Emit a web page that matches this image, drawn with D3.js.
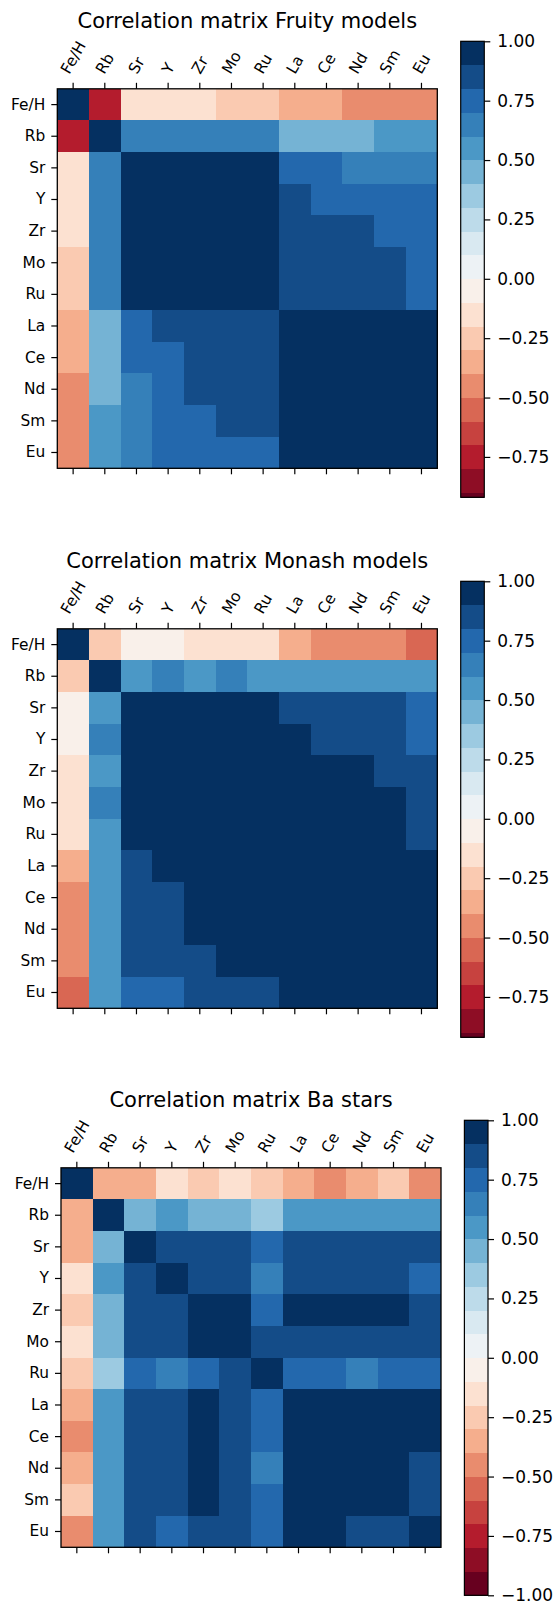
<!DOCTYPE html>
<html><head><meta charset="utf-8">
<script src="https://cdn.jsdelivr.net/npm/d3@7"></script>
<style>
body{margin:0;background:#fff}
svg{display:block}
text{font-family:"DejaVu Sans",sans-serif;fill:#000}
</style>
</head><body>
<svg id="chart" width="556" height="1602"></svg>
<script>
// ---------- data ----------
const elements = ["Fe/H","Rb","Sr","Y","Zr","Mo","Ru","La","Ce","Nd","Sm","Eu"];
const titles = ["Correlation matrix Fruity models","Correlation matrix Monash models","Correlation matrix Ba stars"];
const colorbarTicks = [1.00,0.75,0.50,0.25,0.00,-0.25,-0.50,-0.75,-1.00];
const colorbarMin = [-0.92,-0.92,-1.00];

const fruity = [
 [ 1.00,-0.75,-0.15,-0.15,-0.15,-0.25,-0.25,-0.35,-0.35,-0.45,-0.45,-0.45],
 [-0.75, 1.00, 0.65, 0.65, 0.65, 0.65, 0.65, 0.45, 0.45, 0.45, 0.55, 0.55],
 [-0.15, 0.65, 1.00, 0.97, 0.96, 0.95, 0.95, 0.75, 0.75, 0.65, 0.65, 0.65],
 [-0.15, 0.65, 0.97, 1.00, 0.98, 0.97, 0.96, 0.85, 0.75, 0.75, 0.75, 0.75],
 [-0.15, 0.65, 0.96, 0.98, 1.00, 0.98, 0.97, 0.85, 0.85, 0.85, 0.75, 0.75],
 [-0.25, 0.65, 0.95, 0.97, 0.98, 1.00, 0.98, 0.85, 0.85, 0.85, 0.85, 0.75],
 [-0.25, 0.65, 0.95, 0.96, 0.97, 0.98, 1.00, 0.85, 0.85, 0.85, 0.85, 0.75],
 [-0.35, 0.45, 0.75, 0.85, 0.85, 0.85, 0.85, 1.00, 0.98, 0.97, 0.96, 0.95],
 [-0.35, 0.45, 0.75, 0.75, 0.85, 0.85, 0.85, 0.98, 1.00, 0.98, 0.97, 0.96],
 [-0.45, 0.45, 0.65, 0.75, 0.85, 0.85, 0.85, 0.97, 0.98, 1.00, 0.98, 0.97],
 [-0.45, 0.55, 0.65, 0.75, 0.75, 0.85, 0.85, 0.96, 0.97, 0.98, 1.00, 0.98],
 [-0.45, 0.55, 0.65, 0.75, 0.75, 0.75, 0.75, 0.95, 0.96, 0.97, 0.98, 1.00]
];

const monash = [
 [ 1.00,-0.25,-0.05,-0.05,-0.15,-0.15,-0.15,-0.35,-0.45,-0.45,-0.45,-0.55],
 [-0.25, 1.00, 0.55, 0.65, 0.55, 0.65, 0.55, 0.55, 0.55, 0.55, 0.55, 0.55],
 [-0.05, 0.55, 1.00, 0.98, 0.97, 0.96, 0.96, 0.85, 0.85, 0.85, 0.85, 0.75],
 [-0.05, 0.65, 0.98, 1.00, 0.98, 0.97, 0.97, 0.95, 0.85, 0.85, 0.85, 0.75],
 [-0.15, 0.55, 0.97, 0.98, 1.00, 0.99, 0.98, 0.95, 0.95, 0.95, 0.85, 0.85],
 [-0.15, 0.65, 0.96, 0.97, 0.99, 1.00, 0.99, 0.96, 0.95, 0.95, 0.95, 0.85],
 [-0.15, 0.55, 0.96, 0.97, 0.98, 0.99, 1.00, 0.96, 0.96, 0.95, 0.95, 0.85],
 [-0.35, 0.55, 0.85, 0.95, 0.95, 0.96, 0.96, 1.00, 0.99, 0.98, 0.98, 0.95],
 [-0.45, 0.55, 0.85, 0.85, 0.95, 0.95, 0.96, 0.99, 1.00, 0.99, 0.98, 0.96],
 [-0.45, 0.55, 0.85, 0.85, 0.95, 0.95, 0.95, 0.98, 0.99, 1.00, 0.99, 0.97],
 [-0.45, 0.55, 0.85, 0.85, 0.85, 0.95, 0.95, 0.98, 0.98, 0.99, 1.00, 0.97],
 [-0.55, 0.55, 0.75, 0.75, 0.85, 0.85, 0.85, 0.95, 0.96, 0.97, 0.97, 1.00]
];

const baStars = [
 [ 1.00,-0.35,-0.35,-0.15,-0.25,-0.15,-0.25,-0.35,-0.45,-0.35,-0.25,-0.45],
 [-0.35, 1.00, 0.45, 0.55, 0.45, 0.45, 0.35, 0.55, 0.55, 0.55, 0.55, 0.55],
 [-0.35, 0.45, 1.00, 0.85, 0.85, 0.85, 0.75, 0.85, 0.85, 0.85, 0.85, 0.85],
 [-0.15, 0.55, 0.85, 1.00, 0.85, 0.85, 0.65, 0.85, 0.85, 0.85, 0.85, 0.75],
 [-0.25, 0.45, 0.85, 0.85, 1.00, 0.95, 0.75, 0.95, 0.95, 0.95, 0.95, 0.85],
 [-0.15, 0.45, 0.85, 0.85, 0.95, 1.00, 0.85, 0.85, 0.85, 0.85, 0.85, 0.85],
 [-0.25, 0.35, 0.75, 0.65, 0.75, 0.85, 1.00, 0.75, 0.75, 0.65, 0.75, 0.75],
 [-0.35, 0.55, 0.85, 0.85, 0.95, 0.85, 0.75, 1.00, 0.96, 0.95, 0.95, 0.95],
 [-0.45, 0.55, 0.85, 0.85, 0.95, 0.85, 0.75, 0.96, 1.00, 0.96, 0.95, 0.95],
 [-0.35, 0.55, 0.85, 0.85, 0.95, 0.85, 0.65, 0.95, 0.96, 1.00, 0.96, 0.85],
 [-0.25, 0.55, 0.85, 0.85, 0.95, 0.85, 0.75, 0.95, 0.95, 0.96, 1.00, 0.85],
 [-0.45, 0.55, 0.85, 0.75, 0.85, 0.85, 0.75, 0.95, 0.95, 0.85, 0.85, 1.00]
];

const matrices = [fruity, monash, baStars];

// ---------- colour map (matplotlib RdBu, 20 discrete levels) ----------
const rdbuAnchors = ["#67001f","#b2182b","#d6604d","#f4a582","#fddbc7","#f7f7f7","#d1e5f0","#92c5de","#4393c3","#2166ac","#053061"];
const rdbu = d3.scaleLinear().domain(d3.range(11).map(i => i/10)).range(rdbuAnchors).interpolate(d3.interpolateRgb);
const nLevels = 20;
const levelColors = d3.range(nLevels).map(i => rdbu(i/(nLevels-1)));
const color = d3.scaleQuantize().domain([-1,1]).range(levelColors);

// ---------- layout ----------
const svg = d3.select("#chart");
const offsets = [{dx:0,dy:0},{dx:0,dy:540},{dx:3.7,dy:1079}];
const HM = {left:57.3, top:88.8, w:380, h:379.5};
const CB = {left:460.7, w:23.6, top:41.3, perUnit:237.5};
const tickFS = 15.4, cbFS = 17, titleFS = 21;

matrices.forEach((mat, k) => {
  const {dx, dy} = offsets[k];
  const g = svg.append("g").attr("transform", `translate(${dx},${dy})`);
  const x = d3.scaleBand().domain(elements).range([HM.left, HM.left+HM.w]);
  const y = d3.scaleBand().domain(elements).range([HM.top, HM.top+HM.h]);

  // cells
  const cells = [];
  mat.forEach((row, i) => row.forEach((v, j) => cells.push({r: elements[i], c: elements[j], v})));
  g.append("g").selectAll("rect").data(cells).join("rect")
    .attr("x", d => x(d.c)).attr("y", d => y(d.r))
    .attr("width", x.bandwidth()+0.3).attr("height", y.bandwidth()+0.3)
    .attr("fill", d => color(d.v)).attr("shape-rendering","crispEdges");

  // border
  g.append("rect").attr("x", HM.left).attr("y", HM.top).attr("width", HM.w).attr("height", HM.h)
    .attr("fill","none").attr("stroke","#000").attr("stroke-width",1.3);

  // top axis (ticks + rotated labels)
  const top = g.append("g").attr("transform", `translate(0,${HM.top})`)
    .call(d3.axisTop(x).tickSize(6).tickSizeOuter(0).tickPadding(6));
  top.select(".domain").remove();
  top.selectAll(".tick line").attr("stroke","#000").attr("stroke-width",1.2);
  top.selectAll(".tick text")
    .attr("font-size", tickFS).attr("font-family","DejaVu Sans, sans-serif")
    .attr("text-anchor","middle").attr("y",0).attr("dy","0.346em")
    .each(function(){
      const t = d3.select(this);
      const w = this.getComputedTextLength();
      const h = tickFS*1.164;
      const a = Math.PI/3;
      const H = w*Math.sin(a) + h*Math.cos(a);
      const cy = -6 - 6 - H/2;
      t.attr("transform", `translate(0,${cy}) rotate(-60)`);
    });

  // bottom axis (ticks only)
  const bot = g.append("g").attr("transform", `translate(0,${HM.top+HM.h})`)
    .call(d3.axisBottom(x).tickSize(6).tickSizeOuter(0).tickFormat(""));
  bot.select(".domain").remove();
  bot.selectAll(".tick line").attr("stroke","#000").attr("stroke-width",1.2);

  // left axis
  const left = g.append("g").attr("transform", `translate(${HM.left},0)`)
    .call(d3.axisLeft(y).tickSize(6).tickSizeOuter(0).tickPadding(6));
  left.select(".domain").remove();
  left.selectAll(".tick line").attr("stroke","#000").attr("stroke-width",1.2);
  left.selectAll(".tick text").attr("font-size", tickFS).attr("font-family","DejaVu Sans, sans-serif").attr("fill","#000");

  // title
  g.append("text").attr("x", HM.left+HM.w/2).attr("y", 28.3)
    .attr("text-anchor","middle").attr("font-size", titleFS).text(titles[k]);

  // colorbar
  const vmin = colorbarMin[k];
  const cy = d3.scaleLinear().domain([vmin, 1]).range([CB.top + (1-vmin)*CB.perUnit, CB.top]);
  const bins = d3.range(nLevels).map(i => ({lo: -1 + 2*i/nLevels, hi: -1 + 2*(i+1)/nLevels, c: levelColors[i]}))
    .filter(b => b.hi > vmin + 1e-9);
  g.append("g").selectAll("rect").data(bins).join("rect")
    .attr("x", CB.left).attr("width", CB.w)
    .attr("y", b => cy(b.hi)).attr("height", b => cy(Math.max(b.lo, vmin)) - cy(b.hi) + 0.3)
    .attr("fill", b => b.c).attr("shape-rendering","crispEdges");
  g.append("rect").attr("x", CB.left).attr("y", cy(1)).attr("width", CB.w).attr("height", cy(vmin)-cy(1))
    .attr("fill","none").attr("stroke","#000").attr("stroke-width",1.2);
  const cax = g.append("g").attr("transform", `translate(${CB.left+CB.w},0)`)
    .call(d3.axisRight(cy).tickValues(colorbarTicks.filter(t => t >= vmin - 1e-9)).tickFormat(d3.format(".2f"))
      .tickSize(6).tickSizeOuter(0).tickPadding(7));
  cax.select(".domain").remove();
  cax.selectAll(".tick line").attr("stroke","#000").attr("stroke-width",1.2);
  cax.selectAll(".tick text").attr("font-size", cbFS).attr("font-family","DejaVu Sans, sans-serif").attr("fill","#000");
});
</script>
</body></html>
